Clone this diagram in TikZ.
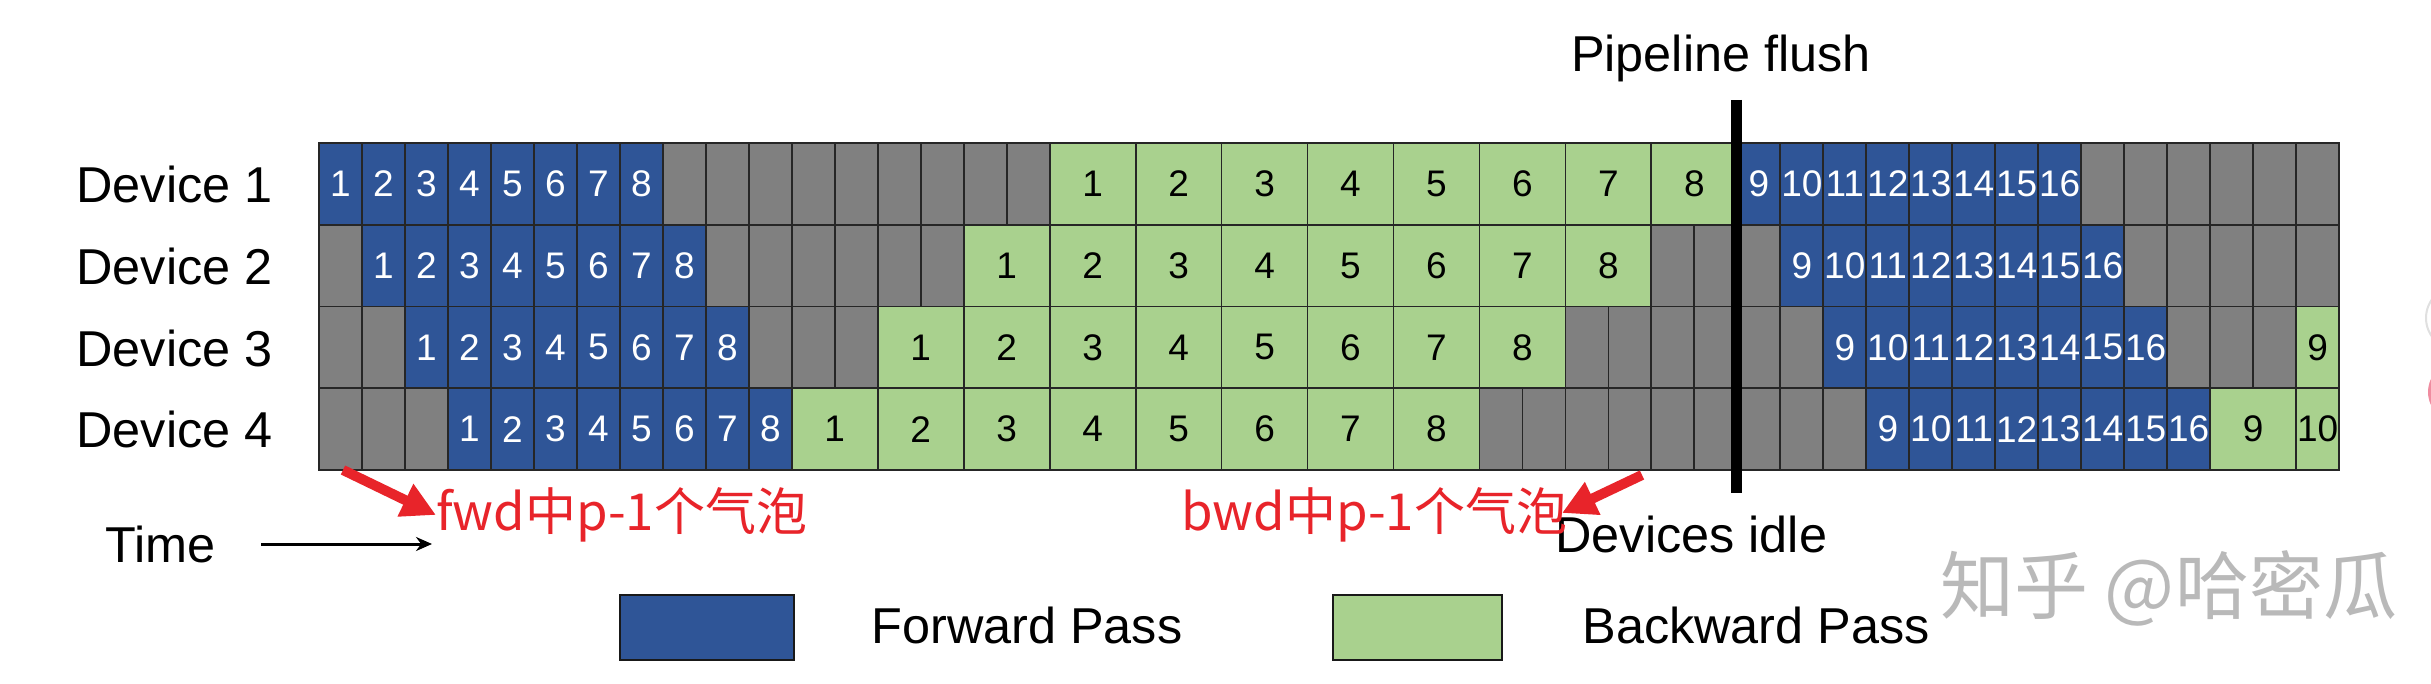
\documentclass[tikz,border=0pt]{standalone}
\usepackage{fontspec}
\setmainfont{Liberation Sans}
\newfontfamily\cjk{Noto Sans CJK SC}
\usetikzlibrary{arrows.meta}
\definecolor{fblue}{RGB}{47,85,151}
\definecolor{bgreen}{RGB}{169,209,142}
\definecolor{idlegray}{RGB}{128,128,128}
\definecolor{notered}{RGB}{232,36,42}
\definecolor{wmgray}{RGB}{185,185,185}
\definecolor{pinkdot}{RGB}{240,140,160}
\newcommand\gpcell[5]{\node[#4, minimum width=#3*21.49pt] (c#1-#2) at ({319+#2*42.98},{143+(#1-1)*81.75}) {#5};}
\begin{document}
\begin{tikzpicture}[x=0.5pt,y=-0.5pt,
  cellbase/.style={draw=black!85, line width=0.9pt, anchor=north west, minimum height=40.875pt, inner sep=0pt, outer sep=0pt, font=\fontsize{18.5}{20}\selectfont},
  fcell/.style={cellbase, fill=fblue, text=white},
  bcell/.style={cellbase, fill=bgreen, text=black},
  icell/.style={cellbase, fill=idlegray},
  lbl/.style={font=\fontsize{25.2}{28}\selectfont, inner sep=0pt, anchor=base west},
  note/.style={font=\cjk\fontsize{25.5}{28}\selectfont, text=notered, inner sep=0pt, anchor=base west},
  redarrow/.style={draw=notered, line width=5pt, -{Triangle[length=17pt,width=17pt]}},
  legbox/.style={draw=black!90, line width=1.25pt, anchor=north west, minimum height=32.5pt, inner sep=0pt, outer sep=0pt}
]
\fill[white] (0,0) rectangle (2431,684);
\useasboundingbox (0,0) rectangle (2431,684);

% idle cells
\foreach \s in {8,9,10,11,12,13,14,15,16,41,42,43,44,45,46}{\gpcell{1}{\s}{1}{icell}{}}
\foreach \s in {0,9,10,11,12,13,14,31,32,33,42,43,44,45,46}{\gpcell{2}{\s}{1}{icell}{}}
\foreach \s in {0,1,10,11,12,29,30,31,32,33,34,43,44,45}{\gpcell{3}{\s}{1}{icell}{}}
\foreach \s in {0,1,2,27,28,29,30,31,32,33,34,35}{\gpcell{4}{\s}{1}{icell}{}}

% forward and backward cells
\foreach \r/\d in {1/0,2/1,3/2,4/3}{
  \foreach \k in {1,...,8}{\pgfmathtruncatemacro\s{\d+\k-1}\gpcell{\r}{\s}{1}{fcell}{\k}}
  \foreach \k in {9,...,16}{\pgfmathtruncatemacro\s{24+\d+\k}\gpcell{\r}{\s}{1}{fcell}{\k}}
  \foreach \k in {1,...,8}{\pgfmathtruncatemacro\s{15-2*\d+2*\k}\gpcell{\r}{\s}{2}{bcell}{\k}}
}
\gpcell{3}{46}{1}{bcell}{9}
\gpcell{4}{44}{2}{bcell}{9}
\gpcell{4}{46}{1}{bcell}{10}

% device labels
\foreach \r in {1,2,3,4}{
  \node[lbl] (dev\r) at (76,{202.5+(\r-1)*81.75}) {Device \r};
}

% pipeline flush
\node[lbl, anchor=base] (pf) at (1721,72) {Pipeline flush};
\coordinate (flushtop) at (1736,100);
\coordinate (flushbot) at (1736,493);
\draw[line width=5.5pt] (flushtop) -- (flushbot);
\node[lbl] (idle) at (1555,552) {Devices idle};

% time
\node[lbl] (time) at (105,562) {Time};
\coordinate (ta) at (261,544);
\coordinate (tb) at (432,544);
\draw[line width=1.5pt, -{Stealth[length=8pt,width=7pt]}] (ta) -- (tb);

% red notes
\node[note] (fwdnote) at (436,530) {fwd中p-1个气泡};
\node[note] (bwdnote) at (1181,530) {bwd中p-1个气泡};
\coordinate (fa1) at (343,470);
\coordinate (fa2) at (436,515);
\draw[redarrow] (fa1) -- (fa2);
\coordinate (ba1) at (1642,475);
\coordinate (ba2) at (1562,513);
\draw[redarrow] (ba1) -- (ba2);

% legend
\node[legbox, fill=fblue, minimum width=87pt] (legf) at (620,595) {};
\node[lbl] (legftxt) at (871,643) {Forward Pass};
\node[legbox, fill=bgreen, minimum width=84.5pt] (legb) at (1333,595) {};
\node[lbl] (legbtxt) at (1582,643) {Backward Pass};

% watermark
\node[font=\cjk\fontsize{37}{40}\selectfont, text=wmgray, inner sep=0pt, anchor=base west] (wm) at (1940,613) {知乎 @哈密瓜};

% edge artifacts
\begin{scope}
\clip (0,0) rectangle (2431,684);
\draw[black!12, line width=1pt] (2458,318) circle (32);
\fill[pinkdot] (2458,392) circle (30);
\end{scope}
\end{tikzpicture}
\end{document}
